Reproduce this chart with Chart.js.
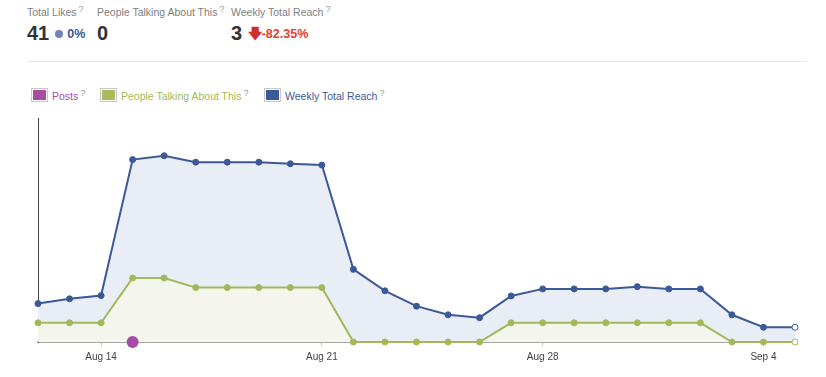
<!DOCTYPE html>
<html>
<head>
<meta charset="utf-8">
<script src="https://cdn.jsdelivr.net/npm/chart.js@4"></script>
<style>
  body { margin: 0; background: #fff; font-family: "Liberation Sans", Arial, sans-serif; }
  #wrap { position: relative; width: 826px; height: 377px; overflow: hidden; }
  .lbl { position: absolute; top: 6px; font-size: 10.5px; color: #808080; white-space: nowrap; }
  .q { font-size: 9px; color: #999; position: relative; top: -4px; margin-left: 2px; }
  .num { position: absolute; top: 22px; font-size: 20px; font-weight: bold; color: #333; white-space: nowrap; }
  .chg { font-size: 12.5px; font-weight: bold; position: relative; top: -2px; }
  #sep { position: absolute; left: 28px; top: 61px; width: 779px; height: 1px; background: #e6e6e6; }
  .leg { position: absolute; top: 88px; font-size: 10.5px; white-space: nowrap; }
  .sw { display: inline-block; width: 13px; height: 10px; border: 1px solid #c8c8c8; padding: 1px; background-clip: content-box; vertical-align: -2px; margin-right: 4px; }
  #chartBox { position: absolute; left: 0; top: 110px; width: 826px; height: 267px; }
</style>
</head>
<body>
<div id="wrap">
  <div class="lbl" style="left:27px">Total Likes<span class="q">?</span></div>
  <div class="lbl" style="left:97px">People Talking About This<span class="q">?</span></div>
  <div class="lbl" style="left:231px">Weekly Total Reach<span class="q">?</span></div>

  <div class="num" style="left:27px">41 <span class="chg" style="color:#3b5998"><span style="display:inline-block;width:8px;height:8px;border-radius:50%;background:#6d84b4;vertical-align:0px;margin-right:1px"></span> 0%</span></div>
  <div class="num" style="left:97px">0</div>
  <div class="num" style="left:231px">3 <span class="chg" style="color:#e0402c"><span style="color:#d0302a;font-size:14px">&#129095;</span>-82.35%</span></div>

  <div id="sep"></div>

  <div class="leg" style="left:31px;color:#a64ca6"><span class="sw" style="background-color:#a64ca6"></span>Posts<span class="q">?</span></div>
  <div class="leg" style="left:100px;color:#a2b959"><span class="sw" style="background-color:#a8bb5e"></span>People Talking About This<span class="q">?</span></div>
  <div class="leg" style="left:264px;color:#3b5998"><span class="sw" style="background-color:#3b5998"></span>Weekly Total Reach<span class="q">?</span></div>

  <div id="chartBox"><canvas id="chart"></canvas></div>
</div>

<script>
// daily points, Aug 12 .. Sep 5
const days = ["Aug 12","Aug 13","Aug 14","Aug 15","Aug 16","Aug 17","Aug 18","Aug 19","Aug 20","Aug 21",
  "Aug 22","Aug 23","Aug 24","Aug 25","Aug 26","Aug 27","Aug 28","Aug 29","Aug 30","Aug 31",
  "Sep 1","Sep 2","Sep 3","Sep 4","Sep 5"];
const tickLabels = ["Aug 14", "Aug 21", "Aug 28", "Sep 4"];

const weeklyReach = [12, 13.5, 14.5, 57, 58.2, 56.2, 56.2, 56.2, 55.7, 55.3,
  22.7, 16, 11.2, 8.5, 7.6, 14.4, 16.6, 16.6, 16.6, 17.3,
  16.6, 16.6, 8.5, 4.6, 4.6];
const talkingAbout = [6, 6, 6, 20, 20, 17, 17, 17, 17, 17,
  0, 0, 0, 0, 0, 6, 6, 6, 6, 6,
  6, 6, 0, 0, 0];
const posts = [null, null, null, 0, null, null, null, null, null, null,
  null, null, null, null, null, null, null, null, null, null,
  null, null, null, null, null];

const lastIdx = days.length - 1;
const hollow = (col) => (ctx) => ctx.dataIndex === lastIdx ? "#fff" : col;

const ctx = document.getElementById("chart").getContext("2d");
new Chart(ctx, {
  type: "line",
  data: {
    labels: days,
    datasets: [
      {
        label: "Posts",
        data: posts,
        showLine: false,
        pointRadius: 6,
        pointBackgroundColor: "#a64ca6",
        pointBorderColor: "#a64ca6",
        pointBorderWidth: 0,
        clip: false,
      },
      {
        label: "People Talking About This",
        data: talkingAbout,
        borderColor: "#a2b95a",
        borderWidth: 2,
        backgroundColor: "#f4f6ee",
        fill: "origin",
        pointRadius: 3,
        pointBackgroundColor: hollow("#a2b95a"),
        pointBorderColor: "#a2b95a",
        pointBorderWidth: 1,
        tension: 0,
        clip: false,
      },
      {
        label: "Weekly Total Reach",
        data: weeklyReach,
        borderColor: "#3b5998",
        borderWidth: 2,
        backgroundColor: "#e9edf5",
        fill: "origin",
        pointRadius: 3,
        pointBackgroundColor: hollow("#3b5998"),
        pointBorderColor: "#3b5998",
        pointBorderWidth: 1,
        tension: 0,
        clip: false,
      },
    ],
  },
  options: {
    responsive: true,
    maintainAspectRatio: false,
    animation: false,
    layout: { padding: { left: 30, right: 31, top: 8, bottom: 10 } },
    plugins: { legend: { display: false }, tooltip: { enabled: false } },
    scales: {
      x: {
        offset: false,
        border: { display: true, color: "#a8a8a8", width: 2 },
        grid: {
          drawOnChartArea: false,
          drawTicks: true,
          tickLength: 5,
          color: (c) => tickLabels.includes(days[c.index]) ? "#d0d0d0" : "rgba(0,0,0,0)",
        },
        ticks: {
          autoSkip: false,
          maxRotation: 0,
          padding: 4,
          color: "#444",
          font: { family: "Liberation Sans", size: 10 },
          callback: (v, i) => tickLabels.includes(days[i]) ? days[i] : "",
        },
      },
      y: {
        min: 0,
        max: 70,
        border: { display: true, color: "#444", width: 1 },
        grid: { display: false },
        ticks: { display: false },
      },
    },
  },
});
</script>
</body>
</html>
